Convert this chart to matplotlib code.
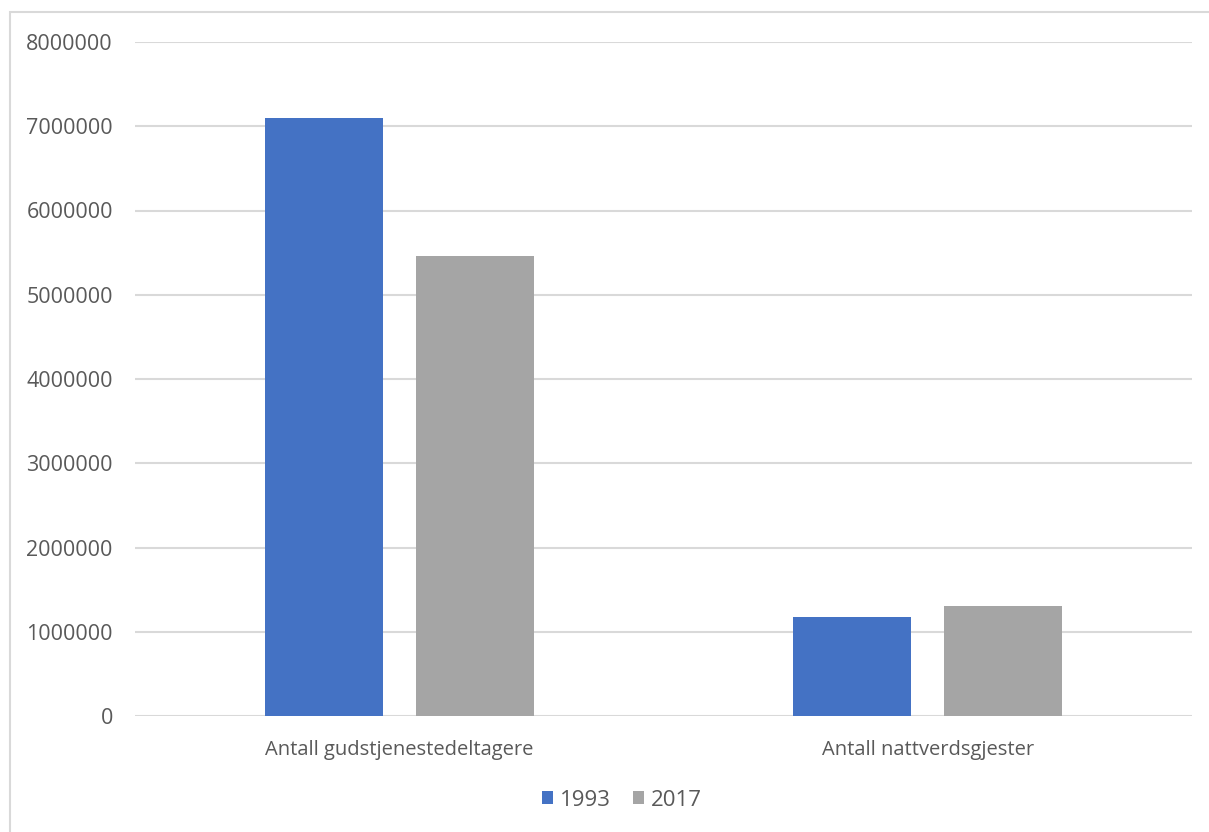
import matplotlib
matplotlib.use("Agg")
import matplotlib.pyplot as plt
import numpy as np
from matplotlib.patches import Rectangle, Patch

categories = ["Antall gudstjenestedeltagere", "Antall nattverdsgjester"]
series_names = ["1993", "2017"]
values_1993 = [7100000, 1180000]
values_2017 = [5460000, 1300000]
yticks = [0, 1000000, 2000000, 3000000, 4000000, 5000000, 6000000, 7000000, 8000000]

colors = ["#4472C4", "#A5A5A5"]
text_color = "#595959"
grid_color = "#D9D9D9"

plt.rcParams['font.family'] = ['Open Sans', 'DejaVu Sans']

W, H = 1209, 832
fig = plt.figure(figsize=(W / 100, H / 100), dpi=100)
fig.patch.set_facecolor("white")

# chart border (only top and left edges visible)
fig.patches.append(Rectangle((10 / W, -0.1), 1.2, 1 - 12 / H + 0.1, transform=fig.transFigure,
                             fill=False, edgecolor="#D9D9D9", linewidth=1.5, zorder=0))

ax = fig.add_axes([135 / W, 1 - 716 / H, (1192 - 135) / W, (716 - 42) / H])
x = np.arange(len(categories))
bw = 0.223
off = 0.143
ax.bar(x - off, values_1993, bw, color=colors[0], label=series_names[0], zorder=3)
ax.bar(x + off, values_2017, bw, color=colors[1], label=series_names[1], zorder=3)

ax.set_xlim(-0.5, len(categories) - 0.5)
ax.set_ylim(0, 8000000)
ax.set_yticks(yticks)
ax.set_yticklabels([str(v) for v in yticks])
ax.set_xticks(x)
ax.set_xticklabels(categories)
ax.yaxis.grid(True, color=grid_color, linewidth=1.5, zorder=0)
ax.set_axisbelow(True)
for s in ax.spines.values():
    s.set_visible(False)
ax.tick_params(axis='both', length=0, labelcolor=text_color)
ax.tick_params(axis='y', pad=16, labelsize=15.5)
ax.tick_params(axis='x', pad=17, labelsize=14.5)

handles = [Patch(facecolor=colors[0]), Patch(facecolor=colors[1])]
fig.legend(handles, series_names, loc='center', bbox_to_anchor=(622 / W, 1 - 800 / H),
           ncol=2, frameon=False, fontsize=16, labelcolor=text_color,
           handlelength=0.5, handleheight=0.5, handletextpad=0.3, columnspacing=1.0)

fig.savefig("out.png", dpi=100)
